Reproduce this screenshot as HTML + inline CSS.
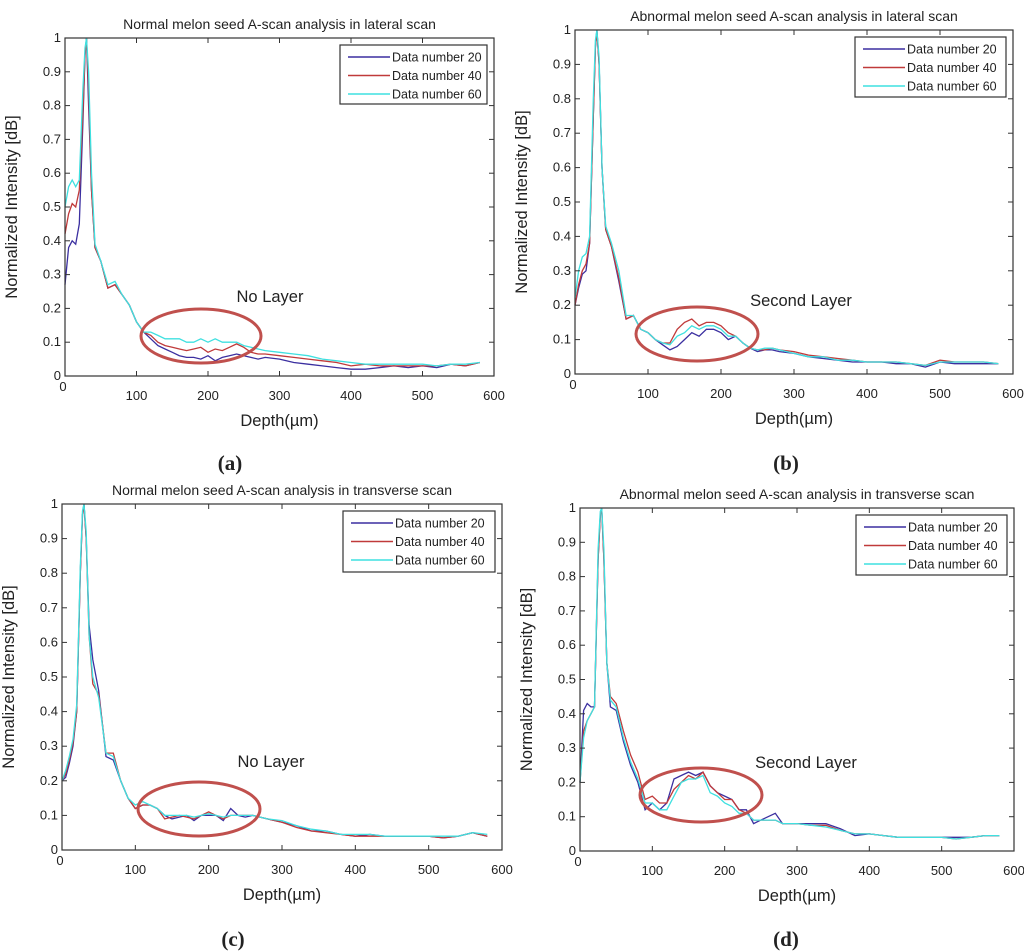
<!DOCTYPE html>
<html><head><meta charset="utf-8">
<style>
body{margin:0;background:#fff;}
svg{display:block;}
text{font-family:"Liberation Sans",sans-serif;fill:#222;}
</style></head>
<body>
<svg id="fig" width="1024" height="952" viewBox="0 0 1024 952" xmlns="http://www.w3.org/2000/svg"></svg>
<script>
const depths=[0,5,10,15,20,25,28,30,33,37,42,50,60,70,80,90,100,110,120,130,140,150,160,170,180,190,200,210,220,230,240,250,260,270,280,300,320,340,360,380,400,420,440,460,480,500,520,540,560,580];
const xTicks=[0,100,200,300,400,500,600];
const yTicks=[0,0.1,0.2,0.3,0.4,0.5,0.6,0.7,0.8,0.9,1];
const seriesNames=["Data number 20","Data number 40","Data number 60"];

const a20=[0.27,0.38,0.40,0.39,0.45,0.75,0.95,1.0,0.8,0.55,0.38,0.34,0.26,0.27,0.24,0.21,0.16,0.13,0.11,0.09,0.08,0.07,0.06,0.055,0.055,0.05,0.06,0.045,0.055,0.06,0.065,0.06,0.055,0.05,0.055,0.05,0.04,0.035,0.03,0.025,0.02,0.02,0.025,0.03,0.025,0.03,0.025,0.035,0.03,0.04];
const a40=[0.42,0.48,0.51,0.50,0.55,0.78,0.95,1.0,0.85,0.55,0.38,0.34,0.26,0.27,0.24,0.21,0.16,0.13,0.12,0.10,0.09,0.085,0.08,0.075,0.08,0.085,0.07,0.08,0.075,0.085,0.095,0.085,0.07,0.065,0.065,0.06,0.055,0.05,0.045,0.04,0.03,0.035,0.03,0.03,0.03,0.03,0.03,0.035,0.03,0.04];
const a60=[0.50,0.56,0.58,0.56,0.58,0.85,0.97,1.0,0.9,0.6,0.39,0.34,0.27,0.28,0.24,0.21,0.16,0.13,0.13,0.12,0.11,0.11,0.11,0.10,0.10,0.11,0.10,0.11,0.10,0.10,0.10,0.09,0.085,0.08,0.075,0.07,0.065,0.06,0.05,0.045,0.04,0.035,0.035,0.035,0.035,0.035,0.03,0.035,0.035,0.04];

const b20=[0.2,0.25,0.29,0.30,0.38,0.75,0.95,1.0,0.9,0.6,0.42,0.37,0.27,0.16,0.17,0.13,0.12,0.10,0.085,0.07,0.08,0.10,0.12,0.11,0.13,0.13,0.12,0.10,0.11,0.09,0.075,0.065,0.07,0.07,0.065,0.06,0.05,0.045,0.04,0.035,0.035,0.035,0.03,0.03,0.02,0.035,0.03,0.03,0.03,0.03];
const b40=[0.2,0.26,0.30,0.32,0.38,0.75,0.95,1.0,0.9,0.6,0.42,0.37,0.28,0.16,0.17,0.13,0.12,0.10,0.09,0.09,0.13,0.15,0.16,0.14,0.15,0.15,0.14,0.12,0.11,0.09,0.075,0.07,0.07,0.075,0.07,0.065,0.055,0.05,0.045,0.04,0.035,0.035,0.035,0.03,0.025,0.04,0.035,0.035,0.035,0.03];
const b60=[0.22,0.30,0.34,0.35,0.40,0.8,0.97,1.0,0.92,0.6,0.43,0.38,0.30,0.17,0.17,0.13,0.12,0.10,0.09,0.085,0.11,0.12,0.14,0.13,0.14,0.14,0.13,0.11,0.11,0.09,0.075,0.07,0.075,0.075,0.07,0.06,0.05,0.05,0.04,0.04,0.035,0.035,0.035,0.03,0.025,0.035,0.035,0.035,0.035,0.03];

const c20=[0.2,0.21,0.25,0.30,0.40,0.8,0.97,1.0,0.9,0.65,0.55,0.46,0.27,0.26,0.20,0.15,0.12,0.13,0.13,0.12,0.10,0.09,0.095,0.10,0.085,0.10,0.10,0.10,0.085,0.12,0.10,0.095,0.10,0.095,0.09,0.08,0.07,0.055,0.055,0.045,0.04,0.045,0.04,0.04,0.04,0.04,0.035,0.04,0.05,0.04];
const c40=[0.2,0.22,0.26,0.31,0.40,0.8,0.97,1.0,0.9,0.62,0.48,0.45,0.28,0.28,0.20,0.15,0.12,0.13,0.13,0.12,0.09,0.095,0.10,0.095,0.09,0.10,0.11,0.10,0.09,0.10,0.10,0.10,0.10,0.095,0.09,0.08,0.065,0.055,0.05,0.045,0.04,0.04,0.04,0.04,0.04,0.04,0.035,0.04,0.05,0.04];
const c60=[0.2,0.23,0.27,0.32,0.42,0.82,0.98,1.0,0.92,0.62,0.50,0.44,0.28,0.27,0.20,0.15,0.13,0.14,0.13,0.12,0.10,0.10,0.10,0.10,0.095,0.10,0.105,0.10,0.095,0.10,0.10,0.10,0.10,0.095,0.09,0.085,0.07,0.06,0.055,0.045,0.045,0.045,0.04,0.04,0.04,0.04,0.04,0.04,0.05,0.045];

const d20=[0.2,0.41,0.43,0.42,0.42,0.85,0.98,1.0,0.85,0.55,0.42,0.41,0.32,0.25,0.20,0.12,0.14,0.12,0.14,0.21,0.22,0.23,0.22,0.23,0.19,0.17,0.16,0.15,0.12,0.12,0.08,0.09,0.10,0.11,0.08,0.08,0.08,0.08,0.065,0.045,0.05,0.045,0.04,0.04,0.04,0.04,0.04,0.04,0.045,0.045];
const d40=[0.2,0.35,0.38,0.40,0.42,0.85,0.98,1.0,0.85,0.55,0.45,0.43,0.35,0.28,0.23,0.15,0.16,0.14,0.14,0.18,0.20,0.22,0.21,0.23,0.19,0.17,0.15,0.15,0.12,0.11,0.09,0.09,0.09,0.09,0.08,0.08,0.075,0.075,0.06,0.05,0.05,0.045,0.04,0.04,0.04,0.04,0.035,0.04,0.045,0.045];
const d60=[0.2,0.33,0.38,0.40,0.42,0.88,0.99,1.0,0.88,0.55,0.44,0.42,0.33,0.26,0.21,0.14,0.14,0.12,0.12,0.16,0.20,0.21,0.21,0.22,0.17,0.16,0.14,0.13,0.11,0.11,0.09,0.09,0.09,0.09,0.08,0.08,0.075,0.07,0.06,0.05,0.05,0.045,0.04,0.04,0.04,0.04,0.035,0.04,0.045,0.045];

const NS="http://www.w3.org/2000/svg";
const svg=document.getElementById('fig');
const colors=["#3b2fa0","#c03a3a","#3fe0e0"];
function mk(tag,attrs,parent,text){const e=document.createElementNS(NS,tag);for(const k in attrs)e.setAttribute(k,attrs[k]);if(text!==undefined)e.textContent=text;(parent||svg).appendChild(e);return e;}

const panels=[
 {id:"a",L:65,T:38,R:494,B:376,title:"Normal melon seed A-scan analysis in lateral scan",series:[a20,a40,a60],note:"No Layer",noteX:270,noteY:302,ell:[201,336,60,27],leg:[340,45,147,59],lab:[230,470]},
 {id:"b",L:575,T:30,R:1013,B:374,title:"Abnormal melon seed A-scan analysis in lateral scan",series:[b20,b40,b60],note:"Second Layer",noteX:801,noteY:306,ell:[697,334,61,27],leg:[855,37,151,60],lab:[786,470]},
 {id:"c",L:62,T:504,R:502,B:850,title:"Normal melon seed A-scan analysis in transverse scan",series:[c20,c40,c60],note:"No Layer",noteX:271,noteY:767,ell:[199,809,61,27],leg:[343,511,152,61],lab:[233,946]},
 {id:"d",L:580,T:508,R:1014,B:851,title:"Abnormal melon seed A-scan analysis in transverse scan",series:[d20,d40,d60],note:"Second Layer",noteX:806,noteY:768,ell:[701,795,61,27],leg:[856,515,151,60],lab:[786,946]}
];

panels.forEach(p=>{
  const g=mk('g',{});
  
  
  const xs=v=>p.L+(p.R-p.L)*v/600;
  const ys=v=>p.B-(p.B-p.T)*v;
  const t=mk('text',{x:(p.L+p.R)/2,y:p.T-9,'text-anchor':'middle','font-size':14},g,p.title);
  
  
  p.series.forEach((s,si)=>{
    const d=depths.map((x,i)=>(i?'L':'M')+xs(x).toFixed(1)+' '+ys(s[i]).toFixed(1)).join(' ');
    const path=mk('path',{d:d,fill:'none',stroke:colors[si],'stroke-width':1.3},g);
    
    
  });
  const box=mk('rect',{x:p.L,y:p.T,width:p.R-p.L,height:p.B-p.T,fill:'none',stroke:'#333','stroke-width':1.2},g);
  
  
  xTicks.forEach(v=>{
    const x=xs(v);
    mk('line',{x1:x,y1:p.B,x2:x,y2:p.B-5,stroke:'#333'},g);
    mk('line',{x1:x,y1:p.T,x2:x,y2:p.T+5,stroke:'#333'},g);
    const tl=mk('text',{x:v===0?x-2:x,y:v===0?p.B+15:p.B+24,'text-anchor':'middle','font-size':13},g,String(v));
    
    
  });
  yTicks.forEach(v=>{
    const y=ys(v);
    mk('line',{x1:p.L,y1:y,x2:p.L+5,y2:y,stroke:'#333'},g);
    mk('line',{x1:p.R,y1:y,x2:p.R-5,y2:y,stroke:'#333'},g);
    const tl=mk('text',{x:p.L-4,y:y+4,'text-anchor':'end','font-size':13},g,v===0?'0':v===1?'1':String(v));
    
    
  });
  const xl=mk('text',{x:(p.L+p.R)/2,y:p.B+50,'text-anchor':'middle','font-size':16.5},g,'Depth(\u00b5m)');
  
  
  const yx=p.L-48, yy=(p.T+p.B)/2;
  const yl=mk('text',{x:yx,y:yy,'text-anchor':'middle','font-size':16.5,transform:`rotate(-90 ${yx} ${yy})`},g,'Normalized Intensity [dB]');
  
  
  const [lx,ly,lw,lh]=p.leg;
  const lg=mk('g',{},g);
  
  
  mk('rect',{x:lx,y:ly,width:lw,height:lh,fill:'#fff',stroke:'#333','stroke-width':1.2},lg);
  seriesNames.forEach((n,i)=>{
    const yy2=ly+12+i*18.5;
    mk('line',{x1:lx+8,y1:yy2,x2:lx+50,y2:yy2,stroke:colors[i],'stroke-width':1.5},lg);
    const lt=mk('text',{x:lx+52,y:yy2+4.5,'font-size':12.5},lg,n);
    
    
  });
  const el=mk('ellipse',{cx:p.ell[0],cy:p.ell[1],rx:p.ell[2],ry:p.ell[3],fill:'none',stroke:'#c0504d','stroke-width':3},g);
  
  
  const nt=mk('text',{x:p.noteX,y:p.noteY,'text-anchor':'middle','font-size':16.5},g,p.note);
  
  
  const pl=mk('text',{x:p.lab[0],y:p.lab[1],'text-anchor':'middle','font-size':21,'font-weight':'bold',style:'font-family:"Liberation Serif",serif'},g,'('+p.id+')');
  
  
});
</script>
</body></html>
